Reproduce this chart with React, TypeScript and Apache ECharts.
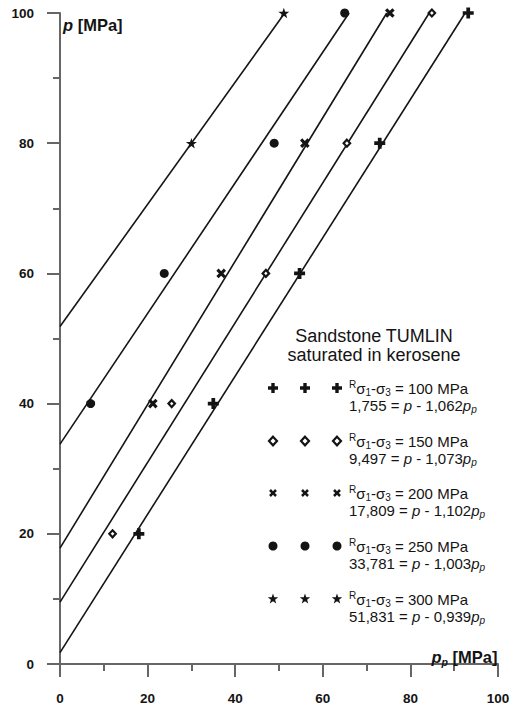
import React, { useEffect, useRef } from "react";
import * as echarts from "echarts";

// ---- data ----
const seriesLabels = ["100 MPa", "150 MPa", "200 MPa", "250 MPa", "300 MPa"];
const eqIntercepts = ["1,755", "9,497", "17,809", "33,781", "51,831"];
const eqSlopes = ["1,062", "1,073", "1,102", "1,003", "0,939"];

const ppCross = [18, 35, 54.7, 73, 93.2];
const pCross = [20, 40, 60, 80, 100];
const ppDiamond = [12, 25.5, 47, 65.5, 84.9];
const pDiamond = [20, 40, 60, 80, 100];
const ppX = [21.2, 36.8, 55.9, 75.3];
const pX = [40, 60, 80, 100];
const ppCircle = [7, 23.8, 48.9, 65];
const pCircle = [40, 60, 80, 100];
const ppStar = [30, 51.1];
const pStar = [80, 100];

// fitted lines: start at pp = 0 (intercept), end at p = 100
const lineIntercepts = [1.755, 9.497, 17.809, 33.781, 51.831];
const lineEndPp = [92.5, 84.3, 74.6, 66.0, 51.3];

// ---- shapes ----
const PLUS_PATH = "M-1.7,-5H1.7V-1.7H5V1.7H1.7V5H-1.7V1.7H-5V-1.7H-1.7Z";
const XMARK_PATH = "M-1.5,-5H1.5V-1.5H5V1.5H1.5V5H-1.5V1.5H-5V-1.5H-1.5Z";
const STAR_PATH =
  "M0,-5.5L1.29,-1.78L5.23,-1.70L2.09,0.68L3.23,4.45L0,2.2L-3.23,4.45L-2.09,0.68L-5.23,-1.70L-1.29,-1.78Z";

echarts.graphic.registerShape("plusMark", echarts.graphic.extendPath(PLUS_PATH, {}) as any);
echarts.graphic.registerShape("xMark", echarts.graphic.extendPath(XMARK_PATH, {}) as any);
echarts.graphic.registerShape("starMark", echarts.graphic.extendPath(STAR_PATH, {}) as any);

const FONT = '"Liberation Sans", Arial, Helvetica, sans-serif';
const INK = "#141414";
const AXIS = "#666666";

function zip(xs: number[], ys: number[]) {
  return xs.map((x, i) => [x, ys[i]]);
}

function tok(extra: any) {
  const base: any = { fontFamily: FONT, fill: INK, color: INK };
  return { ...base, ...extra };
}

export default function App() {
  const ref = useRef<HTMLDivElement>(null);

  useEffect(() => {
    document.body.style.margin = "0";
    if (!ref.current) return;
    const chart = echarts.init(ref.current, null, { renderer: "svg" });

    const markerSeries = [
      {
        name: seriesLabels[0],
        data: zip(ppCross, pCross),
        symbol: "path://" + PLUS_PATH,
        symbolSize: 11,
        symbolRotate: 0,
        itemStyle: { color: INK, opacity: 1 },
      },
      {
        name: seriesLabels[1],
        data: zip(ppDiamond, pDiamond),
        symbol: "diamond",
        symbolSize: [6.5, 7],
        symbolRotate: 0,
        itemStyle: { color: "#ffffff", borderColor: INK, borderWidth: 2.2, opacity: 1 },
      },
      {
        name: seriesLabels[2],
        data: zip(ppX, pX),
        symbol: "path://" + XMARK_PATH,
        symbolSize: 10.5,
        symbolRotate: 45,
        itemStyle: { color: INK, opacity: 1 },
      },
      {
        name: seriesLabels[3],
        data: zip(ppCircle, pCircle),
        symbol: "circle",
        symbolSize: 9,
        symbolRotate: 0,
        itemStyle: { color: INK, opacity: 1 },
      },
      {
        name: seriesLabels[4],
        data: zip(ppStar, pStar),
        symbol: "path://" + STAR_PATH,
        symbolSize: 11,
        symbolRotate: 0,
        itemStyle: { color: INK, opacity: 1 },
      },
    ].map((s) => ({
      ...s,
      type: "scatter",
      z: 5,
      symbolKeepAspect: true,
      emphasis: { disabled: true },
    }));

    const lineSeries = lineIntercepts.map((b, i) => ({
      type: "line",
      name: "fit " + seriesLabels[i],
      data: [
        [0, b],
        [lineEndPp[i], 100],
      ],
      symbol: "none",
      z: 3,
      lineStyle: { color: INK, width: 1.6 },
      emphasis: { disabled: true },
    }));

    const axisCommon = {
      type: "value",
      min: 0,
      max: 100,
      interval: 20,
      splitLine: { show: false },
      axisLine: { show: true, lineStyle: { color: AXIS, width: 2 } },
      axisTick: { show: true, length: 13, lineStyle: { color: AXIS, width: 2 } },
      minorTick: { show: true, splitNumber: 2, length: 7, lineStyle: { color: AXIS, width: 2 } },
      minorSplitLine: { show: false },
      axisLabel: {
        margin: 26,
        fontFamily: FONT,
        fontWeight: "bold",
        fontSize: 13.5,
        color: INK,
        formatter: (v: number) => String(v),
      },
    };

    // ---- legend / annotation graphics ----
    const graphics: any[] = [];
    const rowY = [388, 441, 493, 546, 599];
    const symX = [273, 305, 337];
    const textX = 349;

    const makeSymbol = (k: number, x: number, y: number) => {
      if (k === 0) return { type: "plusMark", x, y, style: { fill: INK } };
      if (k === 1)
        return {
          type: "polygon",
          shape: { points: [[x, y - 4.3], [x + 4, y], [x, y + 4.3], [x - 4, y]] },
          style: { fill: "#fff", stroke: INK, lineWidth: 2.2 },
        };
      if (k === 2) return { type: "xMark", x, y, rotation: Math.PI / 4, scaleX: 0.85, scaleY: 0.85, style: { fill: INK } };
      if (k === 3) return { type: "circle", shape: { cx: x, cy: y, r: 4.5 }, style: { fill: INK } };
      return { type: "starMark", x, y, style: { fill: INK } };
    };

    const entryRich = {
      n: tok({ fontSize: 15, lineHeight: 18 }),
      i: tok({ fontSize: 15, lineHeight: 18, fontStyle: "italic" }),
      sup: tok({ fontSize: 10, lineHeight: 10, verticalAlign: "top" }),
      sub: tok({ fontSize: 10, lineHeight: 10, verticalAlign: "bottom" }),
      isub: tok({ fontSize: 10, lineHeight: 10, verticalAlign: "bottom", fontStyle: "italic" }),
    };

    seriesLabels.forEach((lab, k) => {
      const y = rowY[k];
      symX.forEach((x) => graphics.push({ ...makeSymbol(k, x, y), z: 10 }));
      graphics.push({
        type: "text",
        x: textX,
        y,
        z: 10,
        style: {
          text: `{sup|R}{n|σ}{sub|1}{n|-σ}{sub|3}{n| = ${lab}}`,
          rich: entryRich,
          verticalAlign: "middle",
          align: "left",
          fill: INK,
        },
      });
      graphics.push({
        type: "text",
        x: textX,
        y: y + 17.5,
        z: 10,
        style: {
          text: `{n|${eqIntercepts[k]} = }{i|p}{n| - ${eqSlopes[k]}}{i|p}{isub|p}`,
          rich: entryRich,
          verticalAlign: "middle",
          align: "left",
          fill: INK,
        },
      });
    });

    graphics.push({
      type: "text",
      x: 374,
      y: 336,
      z: 10,
      style: {
        text: "Sandstone TUMLIN",
        fontFamily: FONT,
        fontSize: 18,
        lineHeight: 18,
        fill: INK,
        align: "center",
        verticalAlign: "middle",
      },
    });
    graphics.push({
      type: "text",
      x: 374,
      y: 355,
      z: 10,
      style: {
        text: "saturated in kerosene",
        fontFamily: FONT,
        fontSize: 18,
        lineHeight: 18,
        fill: INK,
        align: "center",
        verticalAlign: "middle",
      },
    });

    const nameRich = {
      b: tok({ fontSize: 16.5, fontWeight: "bold", lineHeight: 20 }),
      i: tok({ fontSize: 16.5, fontWeight: "bold", fontStyle: "italic", lineHeight: 20 }),
      isub: tok({ fontSize: 10.5, fontWeight: "bold", fontStyle: "italic", lineHeight: 11, verticalAlign: "bottom" }),
    };
    graphics.push({
      type: "text",
      x: 63,
      y: 25,
      z: 10,
      style: { text: "{i|p}{b| [MPa]}", rich: nameRich, align: "left", verticalAlign: "middle", fill: INK },
    });
    graphics.push({
      type: "text",
      x: 497.5,
      y: 657,
      z: 10,
      style: { text: "{i|p}{isub|p}{b| [MPa]}", rich: nameRich, align: "right", verticalAlign: "middle", fill: INK },
    });

    chart.setOption({
      animation: false,
      backgroundColor: "#ffffff",
      grid: { left: 60, right: 18, top: 13, bottom: 36, containLabel: false },
      xAxis: { ...axisCommon, axisLabel: { ...axisCommon.axisLabel, margin: 27 } },
      yAxis: { ...axisCommon },
      series: [...lineSeries, ...markerSeries],
      graphic: { elements: graphics },
      tooltip: { show: false },
    } as any);

    return () => chart.dispose();
  }, []);

  return <div ref={ref} style={{ width: 516, height: 705 }} />;
}
